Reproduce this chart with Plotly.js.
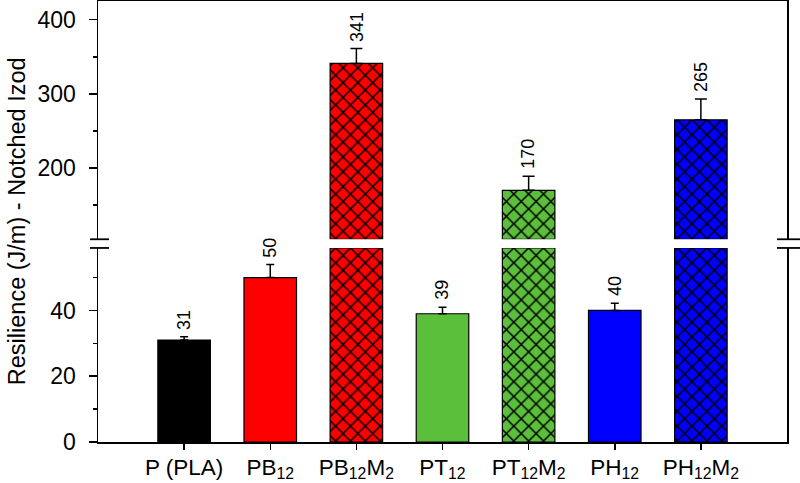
<!DOCTYPE html>
<html>
<head>
<meta charset="utf-8">
<script src="https://cdn.plot.ly/plotly-3.0.1.min.js"></script>
<style>html,body{margin:0;padding:0;background:#fff}#chart{width:800px;height:483px}</style>
</head>
<body>
<div id="chart"></div>
<script>
// ---- data ----
var categories = ['P (PLA)', 'PB<sub>12</sub>', 'PB<sub>12</sub>M<sub>2</sub>', 'PT<sub>12</sub>', 'PT<sub>12</sub>M<sub>2</sub>', 'PH<sub>12</sub>', 'PH<sub>12</sub>M<sub>2</sub>'];
var values = [31, 50, 341, 39, 170, 40, 265];
var errors = [1, 4, 20, 2, 19, 2.2, 28];
var valueLabels = ['31', '50', '341', '39', '170', '40', '265'];
var colors = ['#000000', '#ff0000', '#ff0000', '#5cbf3c', '#5cbf3c', '#0000ff', '#0000ff'];
var hatched = [false, false, true, false, true, false, true];

// ---- axis break settings ----
var lowerMax = 59;
var upperMin = 104;
var upperMax = 425.2;

var idx = categories.map(function (_, i) { return i; });

function markerFor(i) {
  var m = { color: colors[i], line: { color: '#000', width: 1.2 } };
  if (hatched[i]) {
    m.pattern = { shape: 'x', fgcolor: '#000', bgcolor: colors[i], size: 10.5, solidity: 0.27, fillmode: 'replace' };
  }
  return m;
}

var traces = [];
idx.forEach(function (i) {
  var v = values[i];
  // lower segment (always present)
  traces.push({
    type: 'bar', x: [i], y: [Math.min(v, lowerMax)],
    xaxis: 'x', yaxis: 'y', width: 0.61, cliponaxis: false,
    marker: markerFor(i),
    error_y: v < lowerMax ? {
      type: 'data', symmetric: false, array: [errors[i]], arrayminus: [0],
      color: '#000', thickness: 1.5, width: 4
    } : { visible: false },
    hoverinfo: 'skip', showlegend: false
  });
  // upper segment (only values above the break)
  if (v > upperMin) {
    traces.push({
      type: 'bar', x: [i], base: [upperMin], y: [v - upperMin],
      xaxis: 'x2', yaxis: 'y2', width: 0.61, cliponaxis: false,
      marker: markerFor(i),
      error_y: {
        type: 'data', symmetric: false, array: [errors[i]], arrayminus: [0],
        color: '#000', thickness: 1.5, width: 6
      },
      hoverinfo: 'skip', showlegend: false
    });
  }
});

var font = { family: 'Liberation Sans, Arial, sans-serif', color: '#000' };

var annotations = values.map(function (v, i) {
  return {
    x: i, y: v + errors[i],
    xref: 'x', yref: v < lowerMax ? 'y' : 'y2',
    text: valueLabels[i], textangle: -90,
    showarrow: false, xanchor: 'center', yanchor: 'bottom', yshift: 5,
    font: { family: font.family, color: '#000', size: 18 }
  };
});
annotations.push({
  xref: 'paper', yref: 'paper', x: -0.118, y: 0.5,
  text: 'Resilience (J/m) - Notched Izod', textangle: -90,
  showarrow: false, xanchor: 'center', yanchor: 'middle',
  font: { family: font.family, color: '#000', size: 23.5 }
});

var lowDomTop = 0.44;
var upDomBot = 0.4597;

var breakLine = { color: '#000', width: 1.8 };
var shapes = [
  { type: 'line', xref: 'paper', yref: 'paper', xsizemode: 'pixel', xanchor: 0, x0: -8, x1: 11, y0: upDomBot, y1: upDomBot, line: breakLine },
  { type: 'line', xref: 'paper', yref: 'paper', xsizemode: 'pixel', xanchor: 0, x0: -8, x1: 11, y0: lowDomTop, y1: lowDomTop, line: breakLine },
  { type: 'line', xref: 'paper', yref: 'paper', xsizemode: 'pixel', xanchor: 1, x0: -10, x1: 14, y0: upDomBot, y1: upDomBot, line: breakLine },
  { type: 'line', xref: 'paper', yref: 'paper', xsizemode: 'pixel', xanchor: 1, x0: -10, x1: 14, y0: lowDomTop, y1: lowDomTop, line: breakLine }
];

var tickFont = { family: font.family, size: 23, color: '#000' };

var layout = {
  width: 800, height: 483,
  margin: { l: 98, r: 13, t: 1, b: 41 },
  paper_bgcolor: '#fff', plot_bgcolor: '#fff',
  font: font,
  barmode: 'overlay',
  xaxis: {
    domain: [0, 1], anchor: 'y', range: [-1, 7],
    tickmode: 'array', tickvals: idx, ticktext: categories,
    ticks: 'outside', ticklen: 6, tickwidth: 1.5, tickcolor: '#000',
    ticklabelstandoff: -2,
    showline: true, linecolor: '#000', linewidth: 1.5,
    showgrid: false, zeroline: false,
    tickfont: { family: font.family, size: 22.5, color: '#000' }
  },
  xaxis2: {
    domain: [0, 1], anchor: 'y2', matches: 'x', side: 'top',
    showticklabels: false, ticks: '',
    showline: true, linecolor: '#000', linewidth: 1.5,
    showgrid: false, zeroline: false
  },
  yaxis: {
    domain: [0, lowDomTop], anchor: 'x', range: [0, lowerMax],
    tickmode: 'linear', tick0: 0, dtick: 20,
    ticks: 'outside', ticklen: 8, tickwidth: 1.5, tickcolor: '#000',
    ticklabelstandoff: 8,
    minor: { tick0: 0, dtick: 10, ticks: 'outside', ticklen: 4, tickwidth: 1.5, tickcolor: '#000', showgrid: false },
    showline: true, mirror: true, linecolor: '#000', linewidth: 1.5,
    showgrid: false, zeroline: false,
    tickfont: tickFont
  },
  yaxis2: {
    domain: [upDomBot, 1], anchor: 'x2', range: [upperMin, upperMax],
    tickmode: 'linear', tick0: 0, dtick: 100,
    ticks: 'outside', ticklen: 8, tickwidth: 1.5, tickcolor: '#000',
    ticklabelstandoff: 8,
    minor: { tick0: 0, dtick: 50, ticks: 'outside', ticklen: 4, tickwidth: 1.5, tickcolor: '#000', showgrid: false },
    showline: true, mirror: true, linecolor: '#000', linewidth: 1.5,
    showgrid: false, zeroline: false,
    tickfont: tickFont
  },
  annotations: annotations,
  shapes: shapes
};

Plotly.newPlot('chart', traces, layout, { staticPlot: true, displayModeBar: false });
</script>
</body>
</html>
